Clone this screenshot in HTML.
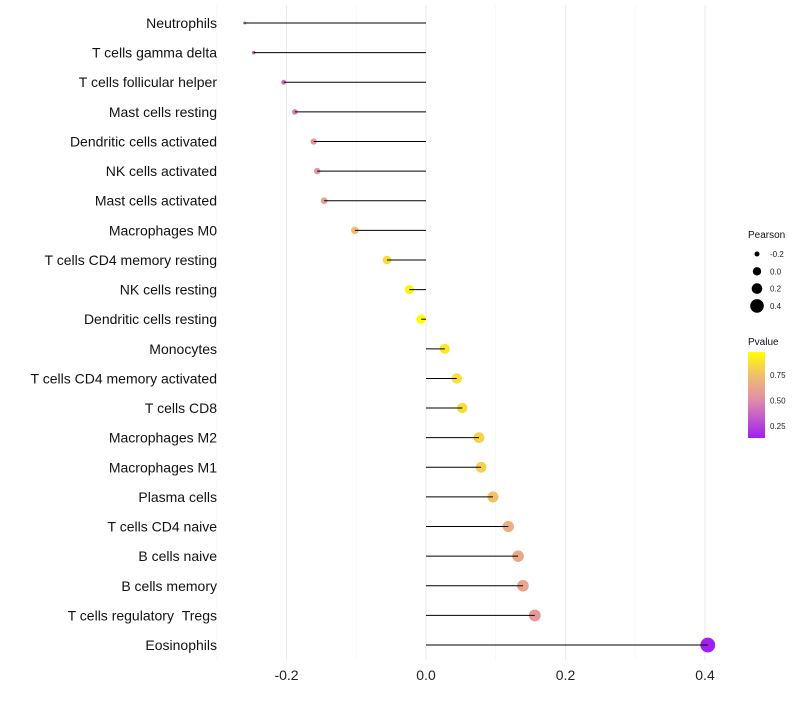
<!DOCTYPE html>
<html><head><meta charset="utf-8"><style>
body{margin:0;background:#fff;font-family:"Liberation Sans",sans-serif}
svg text{font-family:"Liberation Sans",sans-serif}
</style></head><body>
<svg id="c" width="800" height="700"></svg>
<script>
const categories=["Neutrophils","T cells gamma delta","T cells follicular helper","Mast cells resting","Dendritic cells activated","NK cells activated","Mast cells activated","Macrophages M0","T cells CD4 memory resting","NK cells resting","Dendritic cells resting","Monocytes","T cells CD4 memory activated","T cells CD8","Macrophages M2","Macrophages M1","Plasma cells","T cells CD4 naive","B cells naive","B cells memory","T cells regulatory\u00a0\u00a0Tregs","Eosinophils"];
const pearson=[-0.26,-0.247,-0.204,-0.188,-0.161,-0.156,-0.146,-0.102,-0.056,-0.024,-0.007,0.027,0.044,0.052,0.076,0.079,0.096,0.118,0.132,0.139,0.156,0.404];
const pvalue=[0.25,0.33,0.42,0.45,0.55,0.56,0.6,0.75,0.86,0.94,0.98,0.9,0.87,0.86,0.83,0.82,0.76,0.68,0.64,0.62,0.57,0.13];
const xTicks=[-0.2,0,0.2,0.4];
const xTickLabels=["-0.2","0.0","0.2","0.4"];
const sizeLegend=[-0.2,0,0.2,0.4];
const pTicks=[0.75,0.5,0.25];
const NS="http://www.w3.org/2000/svg";
const svg=document.getElementById('c');
const x=v=>426+v*697.5;
const y=i=>23+i*29.62;
const r=v=>Math.sqrt(2+80*(v+0.26));
function col(p){
  const stops=[[0.13,[160,32,240]],[0.5,[225,140,170]],[0.75,[240,190,110]],[0.98,[255,255,0]]];
  p=Math.max(0.13,Math.min(0.98,p));
  let k=0;while(k<stops.length-2&&p>stops[k+1][0])k++;
  const a=stops[k],b=stops[k+1];
  const t=(p-a[0])/(b[0]-a[0]);
  return 'rgb('+a[1].map((c,j)=>Math.round(c+(b[1][j]-c)*t)).join(',')+')';
}
function el(tag,at,txt){const e=document.createElementNS(NS,tag);for(const k in at)e.setAttribute(k,at[k]);if(txt!=null)e.textContent=txt;svg.appendChild(e);return e;}
[-0.3,-0.1,0.1,0.3].forEach(v=>{const g=el('line',{x1:x(v),x2:x(v),y1:5,y2:660,stroke:'#f4f4f4','stroke-width':0.6});

});
xTicks.forEach((v,i)=>{const g=el('line',{x1:x(v),x2:x(v),y1:5,y2:660,stroke:'#ebebeb','stroke-width':1});


const t=el('text',{x:x(v),y:680,'text-anchor':'middle','font-size':14,fill:'#222'},xTickLabels[i]);

});
categories.forEach((c,i)=>{
const t=el('text',{x:217,y:y(i)+5,'text-anchor':'end','font-size':14,fill:'#111'},c);


const d=el('circle',{cx:x(pearson[i]),cy:y(i),r:r(pearson[i]),fill:col(pvalue[i])});


const l=el('line',{x1:x(0),x2:x(pearson[i]),y1:y(i),y2:y(i),stroke:'#000','stroke-width':1});


});
let t=el('text',{x:748,y:238,'font-size':10,fill:'#111'},'Pearson');


sizeLegend.forEach((v,i)=>{const yy=254+i*17.3;
const c=el('circle',{cx:757,cy:yy,r:[2.5,4.2,5.3,6.8][i],fill:'#000'});


const lt=el('text',{x:770,y:yy+3,'font-size':8,fill:'#222'},v.toFixed(1));

});
t=el('text',{x:748,y:345,'font-size':10,fill:'#111'},'Pvalue');


const defs=el('defs',{});
defs.innerHTML='<linearGradient id="g" x1="0" y1="1" x2="0" y2="0"><stop offset="0" stop-color="#a020f0"/><stop offset="0.44" stop-color="#e18caa"/><stop offset="0.73" stop-color="#f0be6e"/><stop offset="1" stop-color="#ffff00"/></linearGradient>';
const bar=el('rect',{x:748,y:352,width:17,height:86,fill:'url(#g)'});


pTicks.forEach(p=>{const yy=438-(p-0.13)/(0.975-0.13)*86;
const lt=el('text',{x:770,y:yy+3,'font-size':8,fill:'#222'},p.toFixed(2));

});
</script>
</body></html>
